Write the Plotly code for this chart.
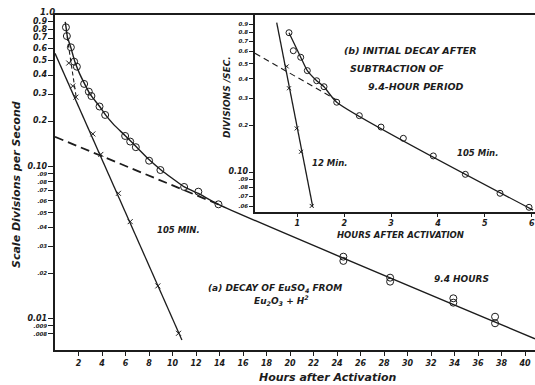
import math
import plotly.graph_objects as go

# ---------------- data ----------------
# (a) main chart: decay of EuSO4
main_circle_hours = [0.93, 1.01, 1.35, 1.63, 1.86, 2.48, 2.88, 3.10, 3.79, 4.27, 5.97, 6.40, 6.88,
                     8.01, 8.97, 10.99, 12.2, 13.91, 24.54, 24.54, 28.52, 28.52, 33.9, 33.9, 37.45, 37.45]
main_circle_values = [0.83, 0.727, 0.613, 0.493, 0.457, 0.352, 0.313, 0.293, 0.250, 0.220, 0.160, 0.147, 0.135,
                      0.110, 0.0955, 0.0739, 0.0688, 0.0568, 0.0257, 0.0241, 0.0187, 0.0176, 0.01368, 0.0128,
                      0.01035, 0.00937]

main_curve_hours = [0.87, 0.95, 1.05, 1.35, 1.7, 2.1, 2.5, 3.0, 3.8, 4.3, 5.0, 6.0, 7.0, 8.0, 9.0, 10.0,
                    11.0, 12.2, 13.9, 40.85]
main_curve_values = [0.90, 0.82, 0.72, 0.61, 0.49, 0.41, 0.355, 0.30, 0.25, 0.22, 0.19, 0.16, 0.134, 0.112,
                     0.096, 0.084, 0.074, 0.067, 0.0568, 0.0074]

period94_dash_hours = [0.0, 13.9]
period94_dash_values = [0.158, 0.0568]

min105_line_hours = [0.0, 10.8]
min105_line_values = [0.56, 0.00728]
min105_point_hours = [1.78, 3.22, 3.90, 5.40, 6.40, 8.75, 10.51]
min105_point_values = [0.288, 0.165, 0.121, 0.0671, 0.0437, 0.0165, 0.00805]

steep_dash_hours = [0.95, 1.80]
steep_dash_values = [0.797, 0.289]
steep_point_hours = [1.17, 1.51]
steep_point_values = [0.483, 0.341]

main_x_ticks = list(range(2, 41, 2))
main_y_ticks = [0.9, 0.8, 0.7, 0.6, 0.5, 0.4, 0.3, 0.2, 0.1, 0.09, 0.08, 0.07, 0.06, 0.05, 0.04,
                0.03, 0.02, 0.01, 0.009, 0.008]
main_y_ticktext = ["0.9", "0.8", "0.7", "0.6", "0.5", "0.4", "0.3", "0.2", "0.10", ".09", ".08",
                   ".07", ".06", ".05", ".04", ".03", ".02", "0.01", ".009", ".008"]
main_y_top_label = "1.0"

# (b) inset: initial decay after subtraction of 9.4-hour period
inset_circle_hours = [0.823, 0.915, 1.073, 1.214, 1.414, 1.570, 1.841, 2.323, 2.786, 3.262, 3.901,
                      4.584, 5.324, 5.943]
inset_circle_values = [0.792, 0.606, 0.550, 0.451, 0.388, 0.355, 0.282, 0.231, 0.195, 0.165, 0.127,
                       0.0966, 0.0729, 0.0592]
inset_curve_hours = [0.823, 1.073, 1.214, 1.414, 1.570, 1.841, 6.03]
inset_curve_values = [0.792, 0.550, 0.451, 0.388, 0.355, 0.282, 0.0568]

inset_dash_hours = [0.098, 1.841]
inset_dash_values = [0.583, 0.292]

min12_line_hours = [0.561, 1.329]
min12_line_values = [0.919, 0.0597]
min12_point_hours = [0.774, 0.823, 0.988, 1.079, 1.308]
min12_point_values = [0.48, 0.347, 0.191, 0.135, 0.0604]

inset_x_ticks = [1, 2, 3, 4, 5, 6]
inset_y_ticks = [0.9, 0.8, 0.7, 0.6, 0.5, 0.4, 0.3, 0.2, 0.1, 0.09, 0.08, 0.07, 0.06]
inset_y_ticktext = ["0.9", "0.8", "0.7", "0.6", "0.5", "0.4", "0.3", "0.2", "0.10", ".09", ".08", ".07", ".06"]

# ---------------- figure ----------------
W, H = 535, 385
INK = "#1c1c1c"
FONT = "DejaVu Sans"


def px(x):
    return x / W


def py(y):
    return 1 - y / H


fig = go.Figure()


def line(xs, ys, axes, width=1.3, dash=None, shape="linear"):
    fig.add_trace(go.Scatter(x=xs, y=ys, mode="lines", xaxis=axes[0], yaxis=axes[1],
                             line=dict(color=INK, width=width, dash=dash, shape=shape, smoothing=0.6),
                             hoverinfo="skip", showlegend=False))


def pts(xs, ys, axes, symbol, size):
    fig.add_trace(go.Scatter(x=xs, y=ys, mode="markers", xaxis=axes[0], yaxis=axes[1],
                             marker=dict(symbol=symbol, size=size, color=INK,
                                         line=dict(color=INK, width=1.0)),
                             showlegend=False))


A = ("x", "y")
B = ("x2", "y2")

line(main_curve_hours, main_curve_values, A, width=1.4, shape="spline")
line(period94_dash_hours, period94_dash_values, A, width=1.8, dash="9px,5px")
line(min105_line_hours, min105_line_values, A, width=1.3)
line(steep_dash_hours, steep_dash_values, A, width=1.1, dash="4px,3px")
pts(main_circle_hours, main_circle_values, A, "circle-open", 7)
pts(min105_point_hours, min105_point_values, A, "x-thin-open", 5)
pts(steep_point_hours, steep_point_values, A, "x-thin-open", 5)

line(inset_curve_hours, inset_curve_values, B, width=1.3, shape="spline")
line(inset_dash_hours, inset_dash_values, B, width=1.1, dash="6px,4px")
line(min12_line_hours, min12_line_values, B, width=1.3)
pts(inset_circle_hours, inset_circle_values, B, "circle-open", 6)
pts(min12_point_hours, min12_point_values, B, "x-thin-open", 4)

tickfont = dict(family=FONT, size=8, color=INK, style="italic", weight="bold")
tickfont_small = dict(family=FONT, size=5.5, color=INK, style="italic", weight="bold")


def big(t):
    return t if t.startswith(".") else "<span style='font-size:8px'>" + t + "</span>"


fig.update_layout(
    width=W, height=H,
    margin=dict(l=0, r=0, t=0, b=0),
    paper_bgcolor="white", plot_bgcolor="white",
    showlegend=False,
    xaxis=dict(domain=[px(55), 1], range=[0, 40.85], anchor="y",
               showline=True, linecolor=INK, linewidth=2, mirror=True,
               showgrid=False, zeroline=False,
               ticks="outside", ticklen=4, tickwidth=1, tickcolor=INK,
               tickvals=main_x_ticks, ticktext=[str(v) for v in main_x_ticks],
               tickfont=tickfont),
    yaxis=dict(domain=[py(350), py(15)], type="log", range=[math.log10(0.00625), 0], anchor="x",
               showline=True, linecolor=INK, linewidth=1.5,
               showgrid=False, zeroline=False,
               ticks="outside", ticklen=5, tickwidth=1, tickcolor=INK,
               tickvals=main_y_ticks, ticktext=[big(t) for t in main_y_ticktext],
               tickfont=tickfont_small),
    xaxis2=dict(domain=[px(255), 1], range=[0.098, 6.07], anchor="y2",
                showline=True, linecolor=INK, linewidth=1.5,
                showgrid=False, zeroline=False,
                ticks="outside", ticklen=3, tickwidth=1, tickcolor=INK,
                tickvals=inset_x_ticks, ticktext=[str(v) for v in inset_x_ticks],
                tickfont=tickfont),
    yaxis2=dict(domain=[py(212), py(15)], type="log", range=[-1.258, 0.013], anchor="x2",
                showline=True, linecolor=INK, linewidth=1.5,
                showgrid=False, zeroline=False,
                ticks="outside", ticklen=4, tickwidth=1, tickcolor=INK,
                tickvals=inset_y_ticks, ticktext=[big(t) if t == "0.10" else t for t in inset_y_ticktext],
                tickfont=tickfont_small),
)


def note(text, x, y, size=9.5, angle=0, xanchor="center"):
    fig.add_annotation(text=text, x=px(x), y=py(y), xref="paper", yref="paper", showarrow=False,
                       textangle=angle, xanchor=xanchor, yanchor="middle",
                       font=dict(family=FONT, size=size, color=INK, style="italic", weight="bold"))


note(main_y_top_label, 47, 12, size=8.5)
note("Hours after Activation", 327, 377, size=11)
note("Scale Divisions per Second", 16, 185, size=11, angle=-90)
note("105 MIN.", 178, 230, size=8.5)
note("9.4 HOURS", 461, 279, size=9)
note("(a) DECAY OF EuSO<sub>4</sub> FROM", 275, 288, size=9)
note("Eu<sub>2</sub>O<sub>3</sub> + H<sup>2</sup>", 281, 300, size=9)

note("(b) INITIAL DECAY AFTER", 410, 50, size=9.5)
note("SUBTRACTION OF", 397, 68, size=9.5)
note("9.4-HOUR PERIOD", 416, 87, size=9.5)
note("DIVISIONS /SEC.", 227, 97, size=9, angle=-90)
note("HOURS AFTER ACTIVATION", 400, 235, size=8.5)
note("105 Min.", 477, 153, size=8.5)
note("12 Min.", 329, 163, size=8.5)

fig.write_html("out.html", config={"displayModeBar": False},
               post_script="document.body.style.margin='0';document.body.style.overflow='hidden';")
